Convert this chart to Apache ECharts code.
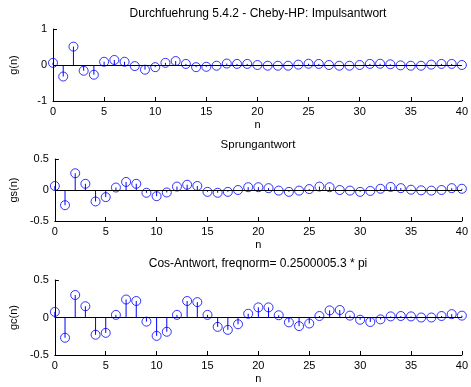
<!DOCTYPE html>
<html>
<head>
<meta charset="utf-8">
<script src="https://cdn.jsdelivr.net/npm/echarts@6/dist/echarts.min.js"></script>
<style>html,body{margin:0;padding:0;background:#fff;}#c{width:471px;height:387px;}</style>
</head>
<body>
<div id="c"></div>
<script>
// sample index
const n = [0,1,2,3,4,5,6,7,8,9,10,11,12,13,14,15,16,17,18,19,20,21,22,23,24,25,26,27,28,29,30,31,32,33,34,35,36,37,38,39,40];
// Impulsantwort g(n)
const g = [0.06,-0.32,0.51,-0.16,-0.27,0.09,0.14,0.09,-0.03,-0.13,-0.06,0.06,0.11,0.03,-0.06,-0.05,-0.02,0.04,0.03,0.03,0.0,-0.02,-0.02,-0.02,0.01,0.035,0.03,0.0,-0.02,-0.02,0.0,0.03,0.035,0.02,-0.01,-0.02,-0.02,0.01,0.03,0.03,0.0];
// Sprungantwort gs(n)
const gs = [0.065,-0.245,0.27,0.10,-0.185,-0.115,0.04,0.13,0.10,-0.045,-0.10,-0.04,0.055,0.085,0.065,-0.03,-0.045,-0.03,0.0,0.045,0.045,0.03,-0.01,-0.03,-0.01,0.015,0.055,0.045,0.0,-0.01,-0.03,-0.015,0.02,0.05,0.03,0.005,-0.005,-0.01,0.0,0.03,0.02];
// Cos-Antwort gc(n)
const gc = [0.075,-0.27,0.30,0.15,-0.23,-0.205,0.035,0.24,0.22,-0.055,-0.245,-0.19,0.035,0.22,0.205,0.035,-0.125,-0.165,-0.09,0.05,0.135,0.135,0.03,-0.065,-0.115,-0.08,0.02,0.095,0.10,0.025,-0.03,-0.06,-0.025,0.015,0.02,0.015,0.0,0.0,0.02,0.045,0.025];

const titles = ['Durchfuehrung 5.4.2 - Cheby-HP: Impulsantwort','Sprungantwort','Cos-Antwort, freqnorm= 0.2500005.3 * pi'];
const yNames = ['g(n)','gs(n)','gc(n)'];
const yMin = [-1,-0.5,-0.5], yMax = [1,0.5,0.5], yInt = [1,0.5,0.5];
const xMin = 0, xMax = 40, xInt = 5;
const series = [g, gs, gc];

const FONT = 'Liberation Sans';
const grids = [
  {left:52, width:413, top:29, height:72},
  {left:52, width:413, top:159, height:62},
  {left:52, width:413, top:280, height:75}
];
const titleTops = [8, 139, 258];
const titleSizes = [12, 11.5, 12];

const option = {
  animation:false,
  backgroundColor:'#fff',
  title: titles.map((t,i)=>({text:t, left:258, top:titleTops[i], textAlign:'center', padding:0,
    textStyle:{fontFamily:FONT, fontSize:titleSizes[i], fontWeight:'normal', color:'#000'}})),
  grid: grids,
  xAxis: grids.map((gr,i)=>({type:'value', gridIndex:i, min:xMin, max:xMax, interval:xInt,
    name:'n', nameLocation:'middle', nameGap:18,
    nameTextStyle:{fontFamily:FONT, fontSize:11, color:'#000'},
    axisLine:{show:true, onZero:false, lineStyle:{color:'#000', width:1}},
    axisTick:{show:true, inside:true, length:4, lineStyle:{color:'#000'}},
    axisLabel:{fontFamily:FONT, fontSize:11, color:'#000', margin:5},
    splitLine:{show:false}})),
  yAxis: grids.map((gr,i)=>({type:'value', gridIndex:i, min:yMin[i], max:yMax[i], interval:yInt[i],
    name:yNames[i], nameLocation:'middle', nameGap:34,
    nameTextStyle:{fontFamily:FONT, fontSize:11, color:'#000'},
    axisLine:{show:true, onZero:false, lineStyle:{color:'#000', width:1}},
    axisTick:{show:true, inside:true, length:4, lineStyle:{color:'#000'}},
    axisLabel:{fontFamily:FONT, fontSize:11, color:'#000', margin:6},
    splitLine:{show:false}})),
  series: []
};

series.forEach((vals,i)=>{
  const data = n.map((x,k)=>[x, vals[k]]);
  option.series.push({
    type:'custom', xAxisIndex:i, yAxisIndex:i, data:data, silent:true,
    renderItem:(params, api)=>{
      const p0 = api.coord([api.value(0), 0]);
      const p1 = api.coord([api.value(0), api.value(1)]);
      return {type:'line', shape:{x1:p0[0], y1:p0[1], x2:p1[0], y2:p1[1]},
        style:{stroke:'#0000ff', lineWidth:1}};
    },
    markLine:{silent:true, symbol:['none','none'], label:{show:false},
      lineStyle:{color:'#000', width:1, type:'solid'}, data:[{yAxis:0}]},
    z:2
  });
  option.series.push({
    type:'scatter', xAxisIndex:i, yAxisIndex:i, data:data, silent:true,
    symbol:'circle', symbolSize:9,
    itemStyle:{color:'rgba(0,0,0,0)', borderColor:'#0000ff', borderWidth:1},
    z:3
  });
});

const chart = echarts.init(document.getElementById('c'), null, {renderer:'canvas'});
chart.setOption(option);
</script>
</body>
</html>
